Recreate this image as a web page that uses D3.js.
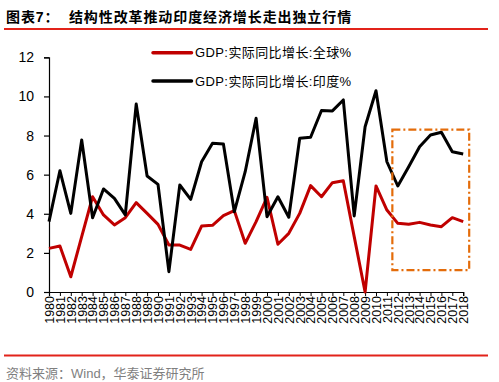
<!DOCTYPE html>
<html>
<head>
<meta charset="utf-8">
<script src="https://cdn.jsdelivr.net/npm/d3@7"></script>
<style>
html,body{margin:0;padding:0;background:#fff;}
svg{display:block;}
</style>
</head>
<body>
<svg id="chart" width="499" height="382"></svg>
<script>
const years = d3.range(1980, 2019);
const worldGDP = [2.23,2.35,0.78,2.83,4.87,3.94,3.43,3.80,4.57,4.02,
                  3.46,2.40,2.40,2.18,3.37,3.41,3.90,4.16,2.49,3.60,
                  4.84,2.44,3.00,4.02,5.44,4.87,5.59,5.69,2.83,0.00,
                  5.42,4.19,3.51,3.46,3.56,3.43,3.34,3.80,3.60];
const indiaGDP = [3.60,6.20,4.02,7.77,3.80,5.27,4.79,3.94,9.61,5.93,
                  5.50,1.04,5.47,4.74,6.66,7.60,7.57,4.10,6.15,8.88,
                  3.85,4.87,3.82,7.86,7.91,9.28,9.26,9.82,3.89,8.45,
                  10.29,6.66,5.42,6.40,7.43,8.03,8.17,7.17,7.06];
const yTicks = [0,2,4,6,8,10,12];
const seriesNames = ["GDP:实际同比增长:全球%", "GDP:实际同比增长:印度%"];
const seriesColors = ["#C00000", "#000000"];
const titleText = "图表7：  结构性改革推动印度经济增长走出独立行情";
const sourceText = "资料来源：Wind，华泰证券研究所";
// highlight box (annotation) in data units
const boxYears = [2011.5, 2018.55];
const boxValues = [1.12, 8.3];

const svg = d3.select("#chart");
const fontLatin = "Arial, 'Liberation Sans', 'Noto Sans CJK SC', sans-serif";

const x = d3.scaleLinear().domain([1980, 2018]).range([49, 463.2]);
const y = d3.scaleLinear().domain([0, 12]).range([292, 57.3]);

// title
svg.append("text").attr("x", 6).attr("y", 22)
  .attr("font-family", fontLatin).attr("font-weight", "bold")
  .attr("font-size", 14).attr("fill", "#000")
  .attr("letter-spacing", 0.9)
  .style("white-space","pre")
  .text(titleText);
svg.append("line").attr("x1", 4).attr("x2", 488).attr("y1", 29).attr("y2", 29)
  .attr("stroke", "#E2231A").attr("stroke-width", 2);

// y axis
const yAxis = d3.axisLeft(y).tickValues(yTicks).tickSize(5).tickPadding(10).tickFormat(d3.format("d"));
const gy = svg.append("g").attr("transform", `translate(${x(1980)},0)`).call(yAxis);
gy.select(".domain").attr("stroke", "#000").attr("stroke-width", 1.2);
gy.selectAll(".tick line").attr("stroke", "#000").attr("stroke-width", 1.2);
gy.selectAll(".tick text").attr("font-family", fontLatin).attr("font-size", 14).attr("fill", "#000");

// x axis
const xAxis = d3.axisBottom(x).tickValues(years).tickSize(4).tickFormat(d3.format("d"));
const gx = svg.append("g").attr("transform", `translate(0,${y(0)})`).call(xAxis);
gx.select(".domain").attr("stroke", "#000").attr("stroke-width", 1.2);
gx.selectAll(".tick line").attr("stroke", "#000").attr("stroke-width", 1);
gx.selectAll(".tick text")
  .attr("font-family", fontLatin).attr("font-size", 12.5).attr("fill", "#000")
  .attr("text-anchor", "end")
  .attr("transform", "rotate(-90)")
  .attr("x", -4).attr("y", 0).attr("dy", "0.35em");

// lines
const line = d3.line().x((d, i) => x(years[i])).y(d => y(d));
[worldGDP, indiaGDP].forEach((vals, k) => {
  svg.append("path").datum(vals)
    .attr("fill", "none").attr("stroke", seriesColors[k])
    .attr("stroke-width", 3).attr("stroke-linejoin", "round")
    .attr("d", line);
});

// highlight box
svg.append("rect")
  .attr("x", x(boxYears[0])).attr("y", y(boxValues[1]))
  .attr("width", x(boxYears[1]) - x(boxYears[0]))
  .attr("height", y(boxValues[0]) - y(boxValues[1]))
  .attr("fill", "none").attr("stroke", "#E46C0A").attr("stroke-width", 2.2)
  .attr("stroke-dasharray", "8,3,2,3");

// legend
const legY = [52.7, 81];
seriesNames.forEach((name, k) => {
  svg.append("line").attr("x1", 153).attr("x2", 191.5)
    .attr("y1", legY[k]).attr("y2", legY[k])
    .attr("stroke", seriesColors[k]).attr("stroke-width", 3.5).attr("stroke-linecap","round");
  svg.append("text").attr("x", 195).attr("y", legY[k]).attr("dy", "0.36em")
    .attr("font-family", fontLatin).attr("font-size", 13).attr("fill", "#000")
    .attr("letter-spacing", 0.4)
    .text(name);
});

// footer
svg.append("line").attr("x1", 4).attr("x2", 488).attr("y1", 355.5).attr("y2", 355.5)
  .attr("stroke", "#E2231A").attr("stroke-width", 2);
svg.append("text").attr("x", 6).attr("y", 378)
  .attr("font-family", fontLatin).attr("font-size", 13).attr("fill", "#7F7F7F")
  .text(sourceText);
</script>
</body>
</html>
